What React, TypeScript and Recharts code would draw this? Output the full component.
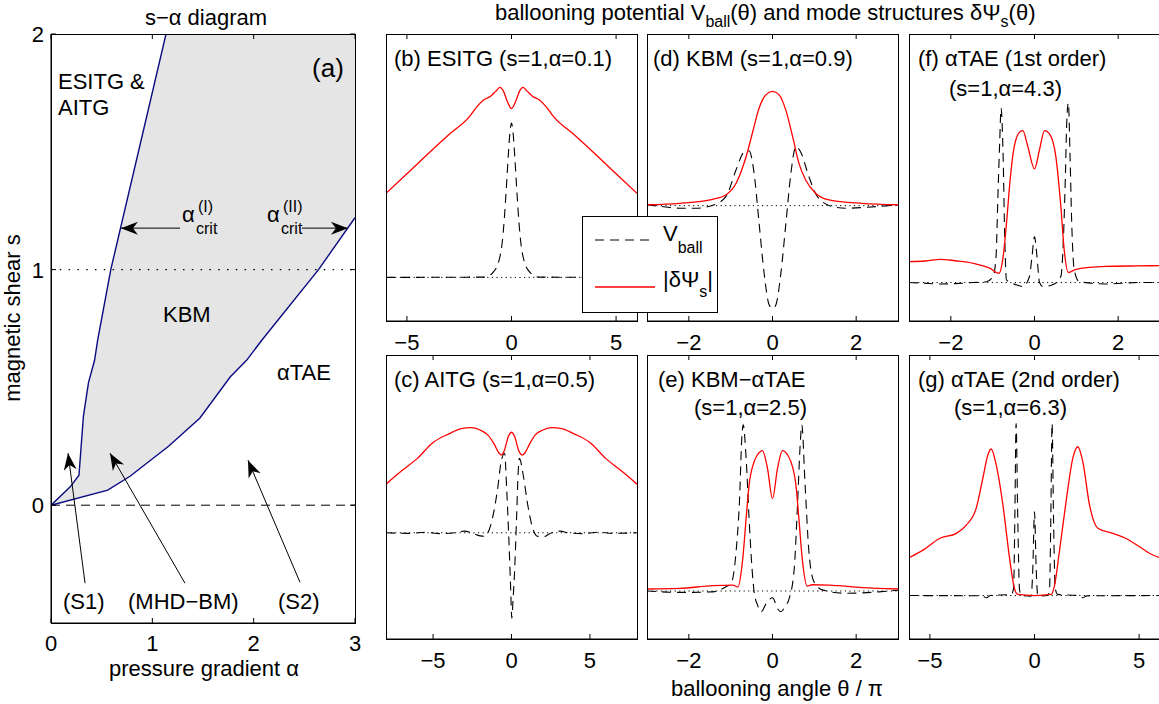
import React from 'react';
import { ComposedChart, Line, Area, XAxis, YAxis } from 'recharts';

const FONT = '"Liberation Sans", Arial, Helvetica, sans-serif';
const RED = '#ff0000';
const NAVY = '#0a0a80';
const fmtMinus = (v: number) => String(v).replace('-', '\u2212');

// ---------- (a) s-alpha stability diagram ----------
// first stability boundary alpha_crit^(I)
const critIAlpha = [0, 0.19, 0.276, 0.32, 0.37, 0.43, 0.46, 0.59, 1.135];
const critIShear = [0, 0.078, 0.127, 0.378, 0.52, 0.615, 0.7, 1.0, 2.0];
// second stability boundary alpha_crit^(II)
const critIIAlpha = [0, 0.56, 0.78, 1.16, 1.47, 1.77, 1.93, 2.08, 2.64, 3.0];
const critIIShear = [0, 0.064, 0.123, 0.25, 0.37, 0.545, 0.615, 0.7, 1.0, 1.22];

const alphaTicks = [0, 1, 2, 3];
const shearTicks = [0, 1, 2];

// annotation arrows (tail -> tip) in (alpha, s)
const arrowTail = [[0.336, -0.331], [1.322, -0.331], [2.457, -0.327], [1.273, 1.176], [2.477, 1.176]];
const arrowTip = [[0.168, 0.221], [0.582, 0.221], [1.944, 0.191], [0.69, 1.176], [2.93, 1.176]];

// ---------- ballooning panels: theta/pi and normalised amplitude ----------
const bPsiT = [-6, -5, -4, -3, -2, -1.64, -1.32, -1.0, -0.76, -0.55, -0.38, -0.2, 0, 0.2, 0.38, 0.55, 0.76, 1.0, 1.32, 1.64, 2, 3, 4, 5, 6];
const bPsi = [44.5, 51.3, 58.2, 64.9, 71.3, 74.8, 77.1, 78.3, 80.0, 81.4, 80.0, 76.5, 74.0, 76.5, 80.0, 81.4, 80.0, 78.3, 77.1, 74.8, 71.3, 64.9, 58.2, 51.3, 44.5];
const bVT = [-6, -1.3, -0.9, -0.6, -0.45, -0.35, -0.25, -0.15, -0.07, 0, 0.07, 0.15, 0.25, 0.35, 0.45, 0.6, 0.9, 1.3, 6];
const bV = [15.2, 15.3, 16.8, 21, 27, 35, 46, 58, 66, 69, 66, 58, 46, 35, 27, 21, 16.8, 15.3, 15.2];

const cPsiT = [-8, -7, -6, -5, -4, -3.2, -2.6, -2, -1.5, -1.1, -0.8, -0.65, -0.45, -0.2, 0, 0.2, 0.45, 0.7, 0.85, 1.15, 1.5, 2, 2.6, 3.2, 4, 5, 6, 7, 8];
const cPsi = [54.5, 59.2, 63.6, 69.2, 72.2, 74.1, 74.4, 73.6, 71.8, 68.6, 65.5, 64.8, 66.5, 71.3, 72.8, 71.3, 66.5, 64.8, 65.5, 68.6, 71.8, 73.6, 74.4, 74.1, 72.2, 69.2, 63.6, 59.2, 54.5];
const cVT = [-8, -6.5, -5.5, -4.5, -3.6, -3, -2.5, -2, -1.7, -1.33, -0.91, -0.66, -0.44, -0.3, -0.17, -0.06, 0.02, 0.1, 0.19, 0.32, 0.42, 0.5, 0.78, 1.0, 1.3, 1.65, 2.05, 2.4, 3.1, 3.6, 4.5, 5.5, 6.5, 8];
const cV = [37.4, 37.2, 37.6, 37.1, 37.4, 38.0, 37.3, 36.3, 36.2, 40, 51.9, 62.4, 65.4, 52, 35.4, 19, 7.3, 14, 23, 42, 58, 63.6, 56.6, 48.4, 40, 36.2, 36.0, 37.0, 38.0, 37.4, 37.1, 37.6, 37.2, 37.4];

const dPsiT = [-3, -2.22, -1.43, -1.11, -0.87, -0.63, -0.48, -0.32, -0.16, 0, 0.16, 0.32, 0.48, 0.63, 0.79, 1.03, 1.35, 2.14, 3];
const dPsi = [40.5, 41.0, 42.4, 44.0, 48.0, 57.3, 65.5, 74.2, 78.8, 80.0, 78.8, 73.4, 64.3, 55.0, 49.2, 44.5, 42.2, 41.0, 40.5];
const dVT = [-3, -2.6, -2.22, -1.83, -1.43, -1.11, -0.87, -0.67, -0.56, -0.44, -0.32, -0.2, -0.08, 0, 0.08, 0.2, 0.32, 0.44, 0.56, 0.67, 0.87, 1.07, 1.43, 1.75, 2.22, 2.7, 3];
const dV = [40.5, 39.8, 39.3, 39.3, 40.3, 43.4, 52.7, 59.0, 59.3, 51.5, 34.0, 16.6, 5.6, 4.4, 5.6, 16.6, 34.0, 51.5, 60.8, 59.0, 50.3, 43.4, 39.9, 39.3, 39.6, 40.1, 40.5];

const ePsiT = [-3, -2.22, -1.43, -0.95, -0.83, -0.71, -0.63, -0.56, -0.44, -0.36, -0.24, -0.12, 0, 0.12, 0.24, 0.36, 0.44, 0.56, 0.63, 0.71, 0.83, 0.95, 1.35, 2.14, 3];
const ePsi = [17.6, 17.8, 18.8, 19.0, 18.3, 28.4, 42.5, 54.2, 62.4, 64.8, 66.3, 60.1, 49.5, 60.1, 66.3, 64.8, 62.4, 54.2, 42.5, 28.4, 18.6, 19.1, 19.0, 18.1, 17.6];
const eVT = [-3, -2.22, -1.43, -1.11, -0.99, -0.87, -0.79, -0.73, -0.7, -0.63, -0.56, -0.49, -0.44, -0.36, -0.27, -0.15, 0, 0.13, 0.2, 0.3, 0.4, 0.52, 0.6, 0.66, 0.7, 0.78, 0.87, 0.99, 1.19, 1.75, 2.54, 3];
const eV = [16.9, 16.4, 16.6, 18.4, 19.5, 30.8, 48.4, 71.8, 75.4, 63.6, 42.5, 24.9, 16.7, 12.0, 9.6, 12.5, 14.5, 10.5, 9.6, 11.5, 14.3, 24.9, 48, 68, 75.4, 54, 30.8, 20.2, 17.3, 16.1, 16.6, 17.2];

const fPsiT = [-3, -2.6, -2.25, -1.9, -1.46, -1.07, -0.85, -0.75, -0.67, -0.59, -0.51, -0.4, -0.28, -0.16, 0, 0.12, 0.24, 0.37, 0.51, 0.63, 0.71, 0.81, 0.99, 1.7, 2.49, 3];
const fPsi = [20.7, 20.9, 21.5, 21.0, 20.1, 18.4, 16.6, 22.4, 34.0, 48.0, 58.5, 64.9, 66.3, 60.8, 53.0, 59.7, 66.3, 64.9, 57.3, 39.9, 24.8, 16.9, 18.0, 19.0, 19.2, 19.3];
const fVT = [-3, -2.65, -2.25, -1.46, -1.15, -0.99, -0.92, -0.87, -0.83, -0.8, -0.75, -0.71, -0.67, -0.43, -0.28, -0.12, -0.06, 0, 0.06, 0.12, 0.2, 0.43, 0.63, 0.69, 0.74, 0.77, 0.81, 0.85, 0.89, 0.95, 1.07, 1.7, 2.49, 3];
const fV = [13.4, 13.2, 12.9, 13.4, 13.7, 15.5, 22.4, 45.7, 63.1, 74.2, 57.3, 28.3, 14.3, 12.6, 12.0, 15.5, 22.4, 29.4, 22.4, 13.4, 12.0, 12.6, 15.5, 28.3, 51.5, 69.0, 76.0, 57.3, 34.0, 17.8, 13.7, 12.9, 13.4, 13.4];

const gPsiT = [-6, -5.33, -4.54, -3.74, -3.26, -2.79, -2.47, -2.23, -2.07, -1.83, -1.51, -1.19, -0.96, -0.8, 0, 0.8, 0.96, 1.19, 1.51, 1.83, 2.07, 2.31, 2.63, 3.03, 3.74, 4.38, 5.02, 5.49, 6];
const gPsi = [28.6, 31.3, 35.4, 37.2, 40.1, 46.0, 56.6, 64.8, 66.9, 61.3, 47.2, 28.4, 17.8, 15.7, 15.3, 15.7, 19.0, 30.8, 48.4, 63.6, 67.7, 62.4, 47.2, 39.0, 37.2, 35.4, 32.5, 30.2, 28.6];
const gVT = [-6, -2.5, -2.3, -2.1, -1.11, -1.0, -0.94, -0.88, -0.8, -0.72, -0.64, -0.16, -0.08, 0, 0.08, 0.16, 0.64, 0.72, 0.78, 0.84, 0.91, 0.99, 1.11, 2.1, 2.3, 2.5, 6];
const gV = [15.3, 15.2, 14.5, 15.3, 15.7, 17.8, 42.5, 75.9, 42.5, 17.8, 15.3, 15.1, 24.9, 44.8, 24.9, 15.1, 15.3, 17.8, 42.5, 75.9, 42.5, 17.8, 15.7, 15.3, 14.5, 15.2, 15.3];

const pts = (xs: number[], ys: number[], xk: string, yk: string) =>
  xs.map((x, i) => ({ [xk]: x, [yk]: ys[i] }));

// x tick: label below the axis plus inward marks on the bottom and top edges
const xTick = (plotH: number, gap: number) => (p: any) => {
  const { x, y, payload, index } = p;
  const bottom = y - gap;
  return (
    <g key={`xt-${index}`}>
      <line x1={x} x2={x} y1={bottom} y2={bottom - 5} stroke="#000" />
      <line x1={x} x2={x} y1={bottom - plotH} y2={bottom - plotH + 5} stroke="#000" />
      <text x={x} y={y} dy="0.71em" textAnchor="middle" fontSize={22} fill="#000">
        {fmtMinus(payload.value)}
      </text>
    </g>
  );
};

// y tick for the s-alpha diagram: label left of the axis plus inward marks on both sides
const yTick = (plotW: number, gap: number) => (p: any) => {
  const { x, y, payload, index } = p;
  const left = x + gap;
  return (
    <g key={`yt-${index}`}>
      <line x1={left} x2={left + 5} y1={y} y2={y} stroke="#000" />
      <line x1={left + plotW} x2={left + plotW - 5} y1={y} y2={y} stroke="#000" />
      <text x={x} y={y} dy="0.36em" textAnchor="end" fontSize={22} fill="#000">
        {payload.value}
      </text>
    </g>
  );
};

// arrow heads are drawn as the second "dot" of a two-point line
function arrowHead() {
  let tail = { x: 0, y: 0 };
  return (p: any) => {
    if (p.index === 0) {
      tail = { x: p.cx, y: p.cy };
      return <g key={`tail-${p.index}`} />;
    }
    const ang = (Math.atan2(p.cy - tail.y, p.cx - tail.x) * 180) / Math.PI;
    return (
      <path
        key={`head-${p.index}`}
        d="M0,0 L-17,-6.5 L-12,0 L-17,6.5 Z"
        fill="#000"
        transform={`translate(${p.cx},${p.cy}) rotate(${ang})`}
      />
    );
  };
}

const Txt: React.FC<{ x: number; y: number; size?: number; center?: boolean; rotate?: number; children: React.ReactNode }> = ({
  x, y, size = 22, center = false, rotate, children,
}) => (
  <div
    style={{
      position: 'absolute', left: x, top: y, fontSize: size, lineHeight: 1, whiteSpace: 'nowrap',
      transform: `translate(${center ? '-50%' : '0'}, -50%)${rotate ? ` rotate(${rotate}deg)` : ''}`,
    }}
  >
    {children}
  </div>
);

const Sub: React.FC<{ dy?: number; size?: number; children: React.ReactNode }> = ({ dy = 7, size = 16, children }) => (
  <span style={{ position: 'relative', top: dy, fontSize: size }}>{children}</span>
);

// axes box drawn around a plot area
const Frame: React.FC<{ left: number; top: number; w: number; h: number }> = ({ left, top, w, h }) => (
  <div style={{ position: 'absolute', left, top, width: w + 1, height: h + 1, boxSizing: 'border-box',
    border: '1px solid #000', pointerEvents: 'none' }} />
);

const A_W = 304;
const A_H = 589;

const ShearAlphaDiagram = () => {
  const critI = pts(critIAlpha, critIShear, 'a', 's');
  const critII = pts(critIIAlpha, critIIShear, 'a', 's');
  const kbmTop = [...critI, { a: 3, s: 2 }];
  const zeroLine = [{ a: 0, s: 0 }, { a: 3, s: 0 }];
  const unitLine = [{ a: 0, s: 1 }, { a: 3, s: 1 }];
  return (
    <div style={{ position: 'absolute', left: 0, top: 0 }}>
      <ComposedChart width={365} height={673} margin={{ top: 34, right: 10, bottom: 0, left: 0 }}>
        <Area data={kbmTop} dataKey="s" type="linear" baseValue={-0.5} fill="#e5e5e5" fillOpacity={1}
          stroke="none" dot={false} activeDot={false} isAnimationActive={false} />
        <Area data={critII} dataKey="s" type="linear" baseValue={-0.5} fill="#ffffff" fillOpacity={1}
          stroke="none" dot={false} activeDot={false} isAnimationActive={false} />
        <Line data={zeroLine} dataKey="s" stroke="#000" strokeWidth={1} strokeDasharray="9 6"
          dot={false} activeDot={false} isAnimationActive={false} />
        <Line data={unitLine} dataKey="s" stroke="#000" strokeWidth={1.2} strokeDasharray="1.5 7.3"
          dot={false} activeDot={false} isAnimationActive={false} />
        <Line data={critI} dataKey="s" type="linear" stroke={NAVY} strokeWidth={1.4}
          dot={false} activeDot={false} isAnimationActive={false} />
        <Line data={critII} dataKey="s" type="linear" stroke={NAVY} strokeWidth={1.4}
          dot={false} activeDot={false} isAnimationActive={false} />
        {arrowTail.map((t, i) => (
          <Line key={`arrow-${i}`}
            data={[{ a: t[0], s: t[1] }, { a: arrowTip[i][0], s: arrowTip[i][1] }]}
            dataKey="s" type="linear" stroke="#000" strokeWidth={1}
            dot={arrowHead()} activeDot={false} isAnimationActive={false} />
        ))}
        <XAxis dataKey="a" type="number" domain={[0, 3]} ticks={alphaTicks} interval={0} allowDataOverflow
          stroke="#000" tickLine={false} tickSize={0} tickMargin={12} tick={xTick(A_H, 12)} height={50} />
        <YAxis type="number" domain={[-0.5, 2]} ticks={shearTicks} interval={0} allowDataOverflow
          stroke="#000" tickLine={false} tickSize={0} tickMargin={7} tick={yTick(A_W, 7)} width={51} />
      </ComposedChart>
    </div>
  );
};

type PanelProps = {
  left: number; top: number; w: number; h: number;
  domain: [number, number]; ticks: number[];
  psiT: number[]; psi: number[]; vT: number[]; v: number[]; v0: number;
};

const BallooningPanel: React.FC<PanelProps> = ({ left, top, w, h, domain, ticks, psiT, psi, vT, v, v0 }) => {
  const psiData = pts(psiT, psi, 't', 'y');
  const vData = pts(vT, v, 't', 'y');
  const zero = [{ t: domain[0], y: v0 }, { t: domain[1], y: v0 }];
  return (
    <div style={{ position: 'absolute', left: left - 10, top: top - 10 }}>
      <ComposedChart width={w + 20} height={h + 50} margin={{ top: 10, right: 10, bottom: 0, left: 10 }}>
        <Line data={zero} dataKey="y" stroke="#000" strokeWidth={1} strokeDasharray="1.2 3.4"
          dot={false} activeDot={false} isAnimationActive={false} />
        <Line data={vData} dataKey="y" type="monotone" stroke="#000" strokeWidth={1.1} strokeDasharray="9 6"
          dot={false} activeDot={false} isAnimationActive={false} />
        <Line data={psiData} dataKey="y" type="monotone" stroke={RED} strokeWidth={1.3}
          dot={false} activeDot={false} isAnimationActive={false} />
        <XAxis dataKey="t" type="number" domain={domain} ticks={ticks} interval={0} allowDataOverflow
          stroke="#000" tickLine={false} tickSize={0} tickMargin={13} tick={xTick(h, 13)} height={40} />
        <YAxis type="number" domain={[0, 100]} allowDataOverflow hide />
      </ComposedChart>
    </div>
  );
};

const W = 251;
const panels: (PanelProps & { id: string })[] = [
  { id: 'b', left: 386, top: 34, w: W, h: 287, domain: [-6, 6], ticks: [-5, 0, 5], psiT: bPsiT, psi: bPsi, vT: bVT, v: bV, v0: 15.2 },
  { id: 'c', left: 386, top: 355, w: W, h: 284, domain: [-8, 8], ticks: [-5, 0, 5], psiT: cPsiT, psi: cPsi, vT: cVT, v: cV, v0: 37.4 },
  { id: 'd', left: 647, top: 34, w: W, h: 287, domain: [-3, 3], ticks: [-2, 0, 2], psiT: dPsiT, psi: dPsi, vT: dVT, v: dV, v0: 40.2 },
  { id: 'e', left: 647, top: 355, w: W, h: 284, domain: [-3, 3], ticks: [-2, 0, 2], psiT: ePsiT, psi: ePsi, vT: eVT, v: eV, v0: 16.9 },
  { id: 'f', left: 909, top: 34, w: W, h: 287, domain: [-3, 3], ticks: [-2, 0, 2], psiT: fPsiT, psi: fPsi, vT: fVT, v: fV, v0: 13.4 },
  { id: 'g', left: 909, top: 355, w: W, h: 284, domain: [-6, 6], ticks: [-5, 0, 5], psiT: gPsiT, psi: gPsi, vT: gVT, v: gV, v0: 15.3 },
];

const LegendBox = () => (
  <div style={{ position: 'absolute', left: 582, top: 216, width: 136, height: 97, boxSizing: 'border-box',
    border: '1px solid #000', background: '#fff' }}>
    <svg width={134} height={95} style={{ position: 'absolute', left: 0, top: 0 }}>
      <line x1={12} x2={72} y1={23} y2={23} stroke="#000" strokeWidth={1.1} strokeDasharray="9 6" />
      <line x1={12} x2={72} y1={70} y2={70} stroke={RED} strokeWidth={1.3} />
    </svg>
    <Txt x={80} y={17}>V<Sub dy={12}>ball</Sub></Txt>
    <Txt x={80} y={63}>|δΨ<Sub dy={10}>s</Sub>|</Txt>
  </div>
);

export default function App() {
  return (
    <div style={{ position: 'absolute', left: 0, top: 0, width: 1159, height: 704, overflow: 'hidden',
      background: '#fff', fontFamily: FONT, color: '#000' }}>
      <ShearAlphaDiagram />
      <Frame left={51} top={34} w={A_W} h={A_H} />
      {panels.map(({ id, ...p }) => (
        <React.Fragment key={id}>
          <BallooningPanel {...p} />
          <Frame left={p.left} top={p.top} w={p.w} h={p.h} />
        </React.Fragment>
      ))}

      {/* titles and axis labels */}
      <Txt x={206} y={18} center>s−α diagram</Txt>
      <Txt x={495} y={13}>ballooning potential V<Sub>ball</Sub>(θ) and mode structures δΨ<Sub>s</Sub>(θ)</Txt>
      <Txt x={13} y={318} center rotate={-90}>magnetic shear s</Txt>
      <Txt x={204} y={669} center>pressure gradient α</Txt>
      <Txt x={777} y={689} center>ballooning angle θ / π</Txt>

      {/* s-alpha diagram annotations */}
      <Txt x={328} y={68} center size={26}>(a)</Txt>
      <Txt x={58} y={82}>ESITG &amp;</Txt>
      <Txt x={58} y={108}>AITG</Txt>
      <Txt x={163} y={315}>KBM</Txt>
      <Txt x={277} y={373}>αTAE</Txt>
      <Txt x={63} y={602}>(S1)</Txt>
      <Txt x={128} y={602}>(MHD−BM)</Txt>
      <Txt x={278} y={602}>(S2)</Txt>
      <Txt x={182} y={215}>α</Txt>
      <Txt x={198} y={207} size={16}>(I)</Txt>
      <Txt x={196} y={229} size={16}>crit</Txt>
      <Txt x={267} y={215}>α</Txt>
      <Txt x={283} y={207} size={16}>(II)</Txt>
      <Txt x={281} y={229} size={16}>crit</Txt>

      {/* panel captions */}
      <Txt x={394} y={59}>(b) ESITG (s=1,α=0.1)</Txt>
      <Txt x={653} y={59}>(d) KBM (s=1,α=0.9)</Txt>
      <Txt x={918} y={59}>(f) αTAE (1st order)</Txt>
      <Txt x={949} y={89}>(s=1,α=4.3)</Txt>
      <Txt x={394} y={380}>(c) AITG (s=1,α=0.5)</Txt>
      <Txt x={658} y={380}>(e) KBM−αTAE</Txt>
      <Txt x={694} y={408}>(s=1,α=2.5)</Txt>
      <Txt x={918} y={380}>(g) αTAE (2nd order)</Txt>
      <Txt x={954} y={408}>(s=1,α=6.3)</Txt>

      <LegendBox />
    </div>
  );
}
